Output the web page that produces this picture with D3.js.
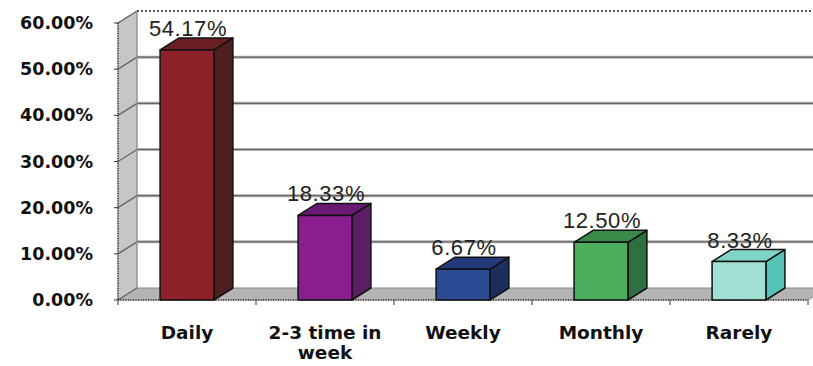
<!DOCTYPE html>
<html>
<head>
<meta charset="utf-8">
<script src="https://cdn.jsdelivr.net/npm/d3@7/dist/d3.min.js"></script>
<style>
  html, body { margin: 0; padding: 0; background: #fff; }
  svg { display: block; }
</style>
</head>
<body>
<svg id="chart" width="813" height="366"></svg>
<script>
// ---- data ----
const categories = ["Daily", "2-3 time in week", "Weekly", "Monthly", "Rarely"];
const categoryLines = [["Daily"], ["2-3 time in", "week"], ["Weekly"], ["Monthly"], ["Rarely"]];
const values = [54.17, 18.33, 6.67, 12.50, 8.33];
const valueLabels = ["54.17%", "18.33%", "6.67%", "12.50%", "8.33%"];
const yTicks = [0, 10, 20, 30, 40, 50, 60];
const yTickLabels = ["0.00%", "10.00%", "20.00%", "30.00%", "40.00%", "50.00%", "60.00%"];
const frontColors = ["#8c2128", "#8b1e8e", "#2b4c94", "#4cad5c", "#a0e0d3"];
const topColors   = ["#6b1f24", "#6a1a74", "#23397a", "#3a8a4a", "#7fd4c6"];
const sideColors  = ["#4e1e20", "#5b1f66", "#1e2e5c", "#2f7042", "#55c3b6"];

// ---- layout ----
const svg = d3.select("#chart");
const left = 118, right = 808, baseY = 300, topY = 23;
const dx = 19, dy = -12;

const y = d3.scaleLinear().domain([0, 60]).range([baseY, topY]);
const x = d3.scaleBand().domain(categories).range([left, right]).padding(0);
const barW = x.bandwidth() * 0.39;

// back wall gridlines
const g = svg.append("g");

// left wall
g.append("path")
  .attr("d", `M${left},${y(0)} L${left},${y(60)} L${left+dx},${y(60)+dy} L${left+dx},${y(0)+dy} Z`)
  .attr("fill", "#c6c6c6").attr("stroke", "#888").attr("stroke-width", 1);

// floor
g.append("path")
  .attr("d", `M${left},${baseY} L${right},${baseY} L${right+dx},${baseY+dy} L${left+dx},${baseY+dy} Z`)
  .attr("fill", "#b4b4b4").attr("stroke", "#888").attr("stroke-width", 1);

// gridlines (back wall + left wall diagonals)
yTicks.forEach(t => {
  const yy = y(t);
  if (t === 60) {
    g.append("line").attr("x1", left+dx).attr("x2", right+dx)
      .attr("y1", yy+dy).attr("y2", yy+dy)
      .attr("stroke", "#555").attr("stroke-width", 2).attr("stroke-dasharray", "2,2");
  } else if (t > 0) {
    g.append("line").attr("x1", left+dx).attr("x2", right+dx)
      .attr("y1", yy+dy).attr("y2", yy+dy)
      .attr("stroke", "#b0b0b0").attr("stroke-width", 3);
    g.append("line").attr("x1", left+dx).attr("x2", right+dx)
      .attr("y1", yy+dy).attr("y2", yy+dy)
      .attr("stroke", "#666").attr("stroke-width", 1.2);
  }
  g.append("line").attr("x1", left).attr("y1", yy)
    .attr("x2", left+dx).attr("y2", yy+dy)
    .attr("stroke", "#666").attr("stroke-width", 1.3);
});
// back wall left edge
g.append("line").attr("x1", left+dx).attr("x2", left+dx)
  .attr("y1", y(60)+dy).attr("y2", y(0)+dy)
  .attr("stroke", "#999").attr("stroke-width", 1);

// axes (front)
g.append("line").attr("x1", left).attr("x2", left).attr("y1", y(60)).attr("y2", baseY)
  .attr("stroke", "#333").attr("stroke-width", 1.5).attr("stroke-dasharray", "1,1.5");
g.append("line").attr("x1", left).attr("x2", right).attr("y1", baseY).attr("y2", baseY)
  .attr("stroke", "#333").attr("stroke-width", 1.5).attr("stroke-dasharray", "1,1.5");
yTicks.forEach(t => {
  g.append("line").attr("x1", left-4).attr("x2", left).attr("y1", y(t)).attr("y2", y(t))
    .attr("stroke", "#333").attr("stroke-width", 1);
});
categories.forEach(c => {
  g.append("line").attr("x1", x(c)).attr("x2", x(c)).attr("y1", baseY).attr("y2", baseY+5)
    .attr("stroke", "#333").attr("stroke-width", 1);
});
g.append("line").attr("x1", right).attr("x2", right).attr("y1", baseY).attr("y2", baseY+5)
  .attr("stroke", "#333").attr("stroke-width", 1);

// y tick labels
svg.append("g").selectAll("text").data(yTicks).join("text")
  .attr("x", 93).attr("y", d => y(d))
  .attr("dy", "0.35em")
  .attr("text-anchor", "end")
  .attr("font-family", "DejaVu Sans, sans-serif")
  .attr("font-weight", "bold")
  .attr("font-size", 17.5)
  .attr("fill", "#111")
  .text((d, i) => yTickLabels[i]);

// bars
const bars = svg.append("g");
categories.forEach((c, i) => {
  const x0 = x(c) + (x.bandwidth() - barW) / 2;
  const x1 = x0 + barW;
  const yv = y(values[i]);
  const bg = bars.append("g").attr("stroke", "#111").attr("stroke-width", 1.5).attr("stroke-linejoin", "round");
  // side
  bg.append("path")
    .attr("d", `M${x1},${yv} L${x1+dx},${yv+dy} L${x1+dx},${baseY+dy} L${x1},${baseY} Z`)
    .attr("fill", sideColors[i]);
  // top
  bg.append("path")
    .attr("d", `M${x0},${yv} L${x1},${yv} L${x1+dx},${yv+dy} L${x0+dx},${yv+dy} Z`)
    .attr("fill", topColors[i]);
  // front
  bg.append("rect")
    .attr("x", x0).attr("y", yv).attr("width", barW).attr("height", baseY - yv)
    .attr("fill", frontColors[i]);
  // value label
  bars.append("text")
    .attr("x", x0 + barW / 2 + 1)
    .attr("y", yv + dy - 2)
    .attr("text-anchor", "middle")
    .attr("font-family", "Liberation Sans, Arial, sans-serif")
    .attr("font-size", 22)
    .attr("letter-spacing", 0.6)
    .attr("fill", "#222")
    .text(valueLabels[i]);
});

// category labels
const cl = svg.append("g");
categories.forEach((c, i) => {
  const cx = x(c) + x.bandwidth() / 2;
  const t = cl.append("text")
    .attr("text-anchor", "middle")
    .attr("font-family", "DejaVu Sans, sans-serif")
    .attr("font-weight", "bold")
    .attr("font-size", 18.5)
    .attr("fill", "#111");
  categoryLines[i].forEach((line, j) => {
    t.append("tspan").attr("x", cx).attr("y", 339 + j * 20).text(line);
  });
});
</script>
</body>
</html>
